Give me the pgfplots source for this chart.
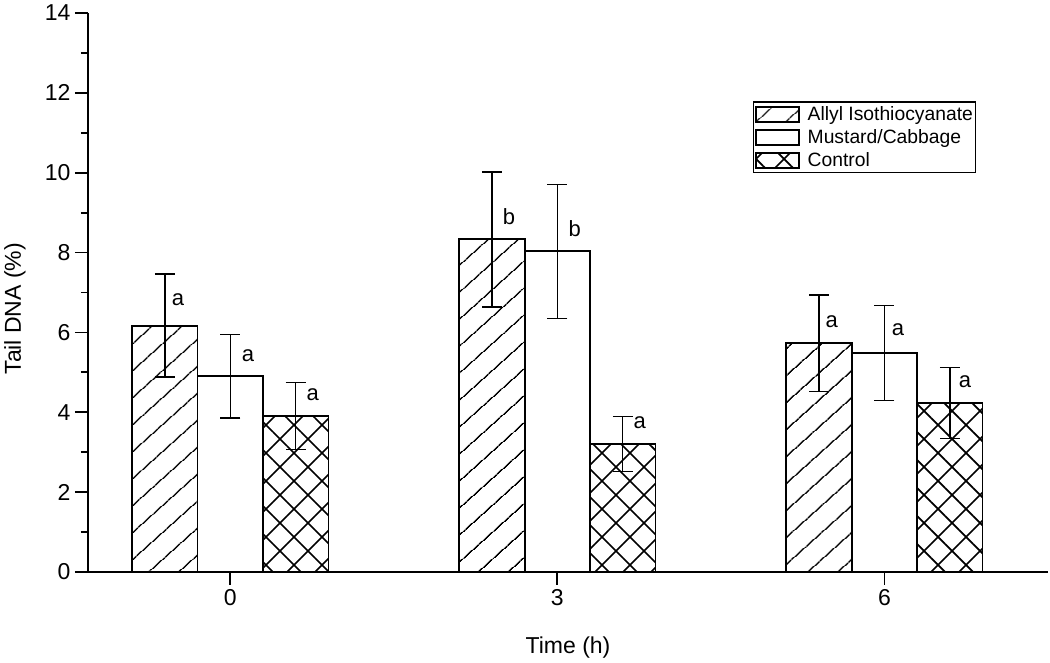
\documentclass[border=0pt]{standalone}
\usepackage{fontspec}
\setmainfont{Liberation Sans}
\usepackage{pgfplots}
\usepackage{pgfplotstable}
\pgfplotsset{compat=1.18}
\usetikzlibrary{patterns.meta,calc}

\pgfplotstableread{
x y err
0 6.17 1.29
1 8.33 1.69
2 5.73 1.21
}\aitc
\pgfplotstableread{
x y err
0 4.90 1.04
1 8.03 1.68
2 5.49 1.19
}\mustard
\pgfplotstableread{
x y err
0 3.90 0.84
1 3.20 0.69
2 4.24 0.89
}\control

\begin{document}
\begin{tikzpicture}
\begin{axis}[
  scale only axis,
  width=960pt, height=559pt,
  xmin=-0.435, xmax=2.5,
  ymin=0, ymax=14,
  ytick={0,2,...,14},
  minor y tick num=1,
  xtick={0,1,2},
  xticklabels={0,3,6},
  axis x line*=bottom, axis y line*=left,
  x axis line style={-}, y axis line style={-},
  axis line style={line width=1.8pt, black},
  tick style={line width=1.8pt, black},
  tick align=outside,
  major tick length=13pt,
  minor tick length=7pt,
  /pgf/number format/assume math mode=true,
  ticklabel style={font=\fontsize{23}{26}\selectfont},
  yticklabel style={xshift=-1pt},
  xticklabel style={yshift=-1pt},
  xlabel={Time (h)},
  ylabel={Tail DNA (\%)},
  label style={font=\fontsize{23}{26}\selectfont},
  xlabel style={at={(axis description cs:0.5,-0.135)}, anchor=center},
  ylabel style={at={(axis description cs:-0.076,0.471)}, anchor=center},
  ybar=0pt,
  bar width=0.2,
  legend style={at={(axis description cs:0.693,0.842)}, anchor=north west,
    draw=black, line width=1.2pt, font=\fontsize{19.3}{22}\selectfont,
    inner xsep=1pt, inner ysep=3.5pt, row sep=5.5pt, column sep=6pt, cells={anchor=west},
    nodes={inner xsep=2pt, inner ysep=1pt}},
  legend image code/.code={\draw[#1, line width=1.8pt] (0pt,-7.5pt) rectangle (43pt,7.5pt);},
  error bars/y dir=both, error bars/y explicit,
  error bars/error bar style={line width=1.3pt, black},
  error bars/error mark options={rotate=90, mark size=10pt, line width=1.3pt, black},
]
\addplot[draw=black, line width=1.8pt, bar shift=-0.2,
  pattern={Lines[angle=42, distance=20.5pt, line width=1.4pt]}]
  table[x=x, y=y, y error=err]{\aitc};
\addlegendentry{Allyl Isothiocyanate}
\addplot[draw=black, fill=white, line width=1.8pt, bar shift=0]
  table[x=x, y=y, y error=err]{\mustard};
\addlegendentry{Mustard/Cabbage}
\addplot[draw=black, line width=1.8pt, bar shift=0.2,
  pattern={Hatch[angle=45, distance=19.8pt, line width=1.7pt]}]
  table[x=x, y=y, y error=err]{\control};
\addlegendentry{Control}

\begin{scope}[every node/.style={font=\fontsize{22}{24}\selectfont, anchor=center}]
\node at (axis cs:-0.160,6.81) {a};
\node at (axis cs:0.054,5.41) {a};
\node at (axis cs:0.252,4.43) {a};
\node at (axis cs:0.852,8.89) {b};
\node at (axis cs:1.053,8.61) {b};
\node at (axis cs:1.252,3.73) {a};
\node at (axis cs:1.839,6.26) {a};
\node at (axis cs:2.041,6.06) {a};
\node at (axis cs:2.246,4.76) {a};
\end{scope}
\end{axis}
\pgfresetboundingbox
\path[use as bounding box] ($(current axis.south west)+(-88pt,-91pt)$) rectangle ($(current axis.south west)+(962pt,572pt)$);
\end{tikzpicture}
\end{document}
